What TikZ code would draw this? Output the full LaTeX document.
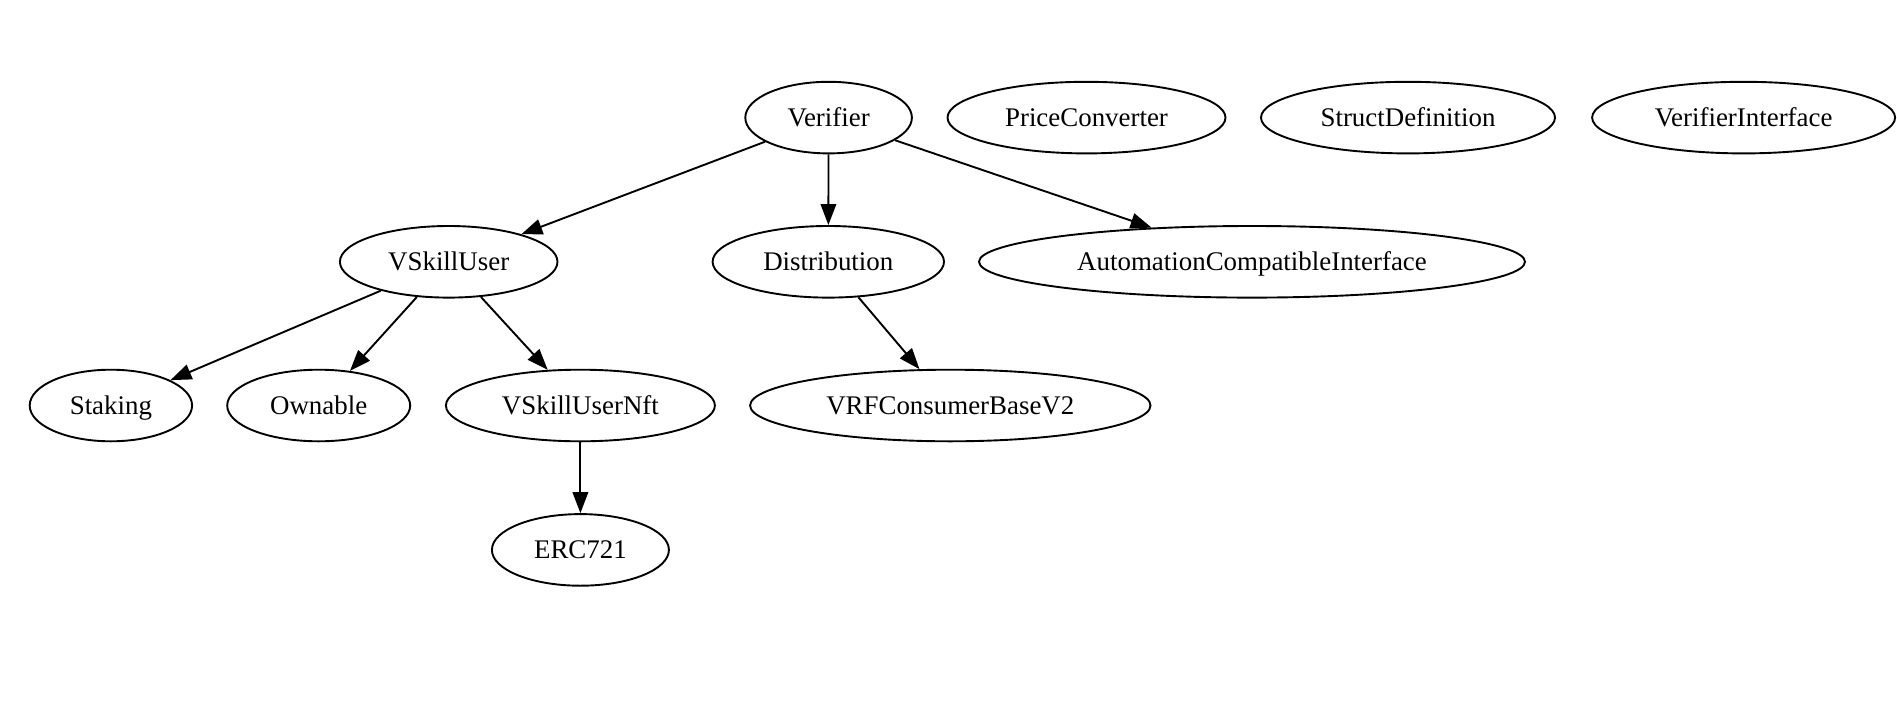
\documentclass[tikz,border=0pt]{standalone}
\usepackage{fontspec}
\setmainfont{Liberation Serif}
\usetikzlibrary{shapes.geometric,arrows.meta}
\begin{document}
\begin{tikzpicture}[x=1pt,y=-1pt,
  cls/.style={draw, ellipse, line width=1.9pt, inner sep=0pt, minimum height=71.6pt,
    text height=20pt, text depth=2.2pt,
    font=\fontsize{26.9}{32}\selectfont},
  dep/.style={line width=1.9pt, -{Triangle[length=21pt,width=15.5pt]}}]
\useasboundingbox (0,0) rectangle (1897,701);
\node[cls, minimum width=166.6pt] (ver) at (828.6,117.6) {Verifier};
\node[cls, minimum width=278pt] (pc) at (1086.5,117.6) {PriceConverter};
\node[cls, minimum width=294pt] (sd) at (1408,117.6) {StructDefinition};
\node[cls, minimum width=303pt] (vi) at (1743.6,117.6) {VerifierInterface};
\node[cls, minimum width=217.6pt] (vsu) at (448.7,261.8) {VSkillUser};
\node[cls, minimum width=231.4pt] (dist) at (828.3,261.8) {Distribution};
\node[cls, minimum width=546pt] (aci) at (1252,261.8) {AutomationCompatibleInterface};
\node[cls, minimum width=162.4pt] (stk) at (110.9,405.5) {Staking};
\node[cls, minimum width=183pt] (own) at (318.7,405.5) {Ownable};
\node[cls, minimum width=269pt] (nft) at (580.4,405.5) {VSkillUserNft};
\node[cls, minimum width=400.4pt] (vrf) at (950.3,405.5) {VRFConsumerBaseV2};
\node[cls, minimum width=177pt] (erc) at (580.4,549.9) {ERC721};
\draw[dep] (ver) -- (vsu);
\draw[dep] (ver) -- (dist);
\draw[dep] (ver) -- (aci);
\draw[dep] (vsu) -- (stk);
\draw[dep] (vsu) -- (own);
\draw[dep] (vsu) -- (nft);
\draw[dep] (dist) -- (vrf);
\draw[dep] (nft) -- (erc);
\end{tikzpicture}
\end{document}
